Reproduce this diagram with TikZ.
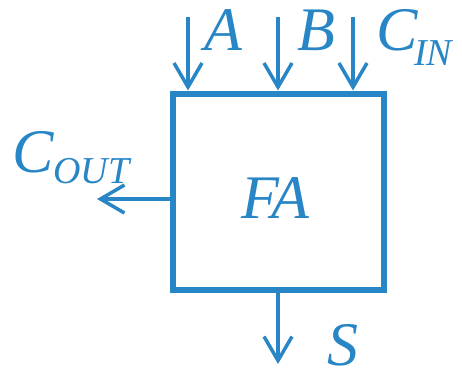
\documentclass[tikz,border=0pt]{standalone}
\usepackage{fontspec}
\setmainfont{Liberation Serif}
\usetikzlibrary{arrows.meta}
\definecolor{fablue}{RGB}{40,134,198}
\tikzset{
  sig/.style={draw=fablue, line width=3.5pt, -{Straight Barb[length=24pt,width=28pt,line width=3.5pt]}},
  lbl/.style={text=fablue, font=\fontsize{62}{62}\selectfont\itshape, inner sep=0pt, anchor=base west},
  sub/.style={text=fablue, font=\fontsize{38}{38}\selectfont\itshape, inner sep=0pt, anchor=base west}
}
\begin{document}
\begin{tikzpicture}[x=1pt,y=-1pt]
\useasboundingbox (0,0) rectangle (462,373);
\node[draw=fablue, line width=6pt, minimum width=211.5pt, minimum height=196.5pt, inner sep=0pt] (fa) at (278.25,191.75) {};
\node[lbl, anchor=base] (falbl) at (275,218) {FA};
% inputs
\coordinate (ta) at (188,17);
\coordinate (tb) at (278,17);
\coordinate (tc) at (353,17);
\draw[sig] (ta) -- (ta |- fa.north);
\draw[sig] (tb) -- (tb |- fa.north);
\draw[sig] (tc) -- (tc |- fa.north);
% outputs
\coordinate (co) at (97,199);
\coordinate (so) at (278,364);
\draw[sig] (fa.west |- co) -- (co);
\draw[sig] (so |- fa.south) -- (so);
% labels
\node[lbl] (la) at (204,50) {A};
\node[lbl] (lb) at (297,50) {B};
\node[lbl] (lc) at (376,50) {C};
\node[sub] (lin) at (414,65) {IN};
\node[lbl] (lco) at (12,172) {C};
\node[sub] (lout) at (53,183) {OUT};
\node[lbl] (ls) at (327,365) {S};
\end{tikzpicture}
\end{document}
